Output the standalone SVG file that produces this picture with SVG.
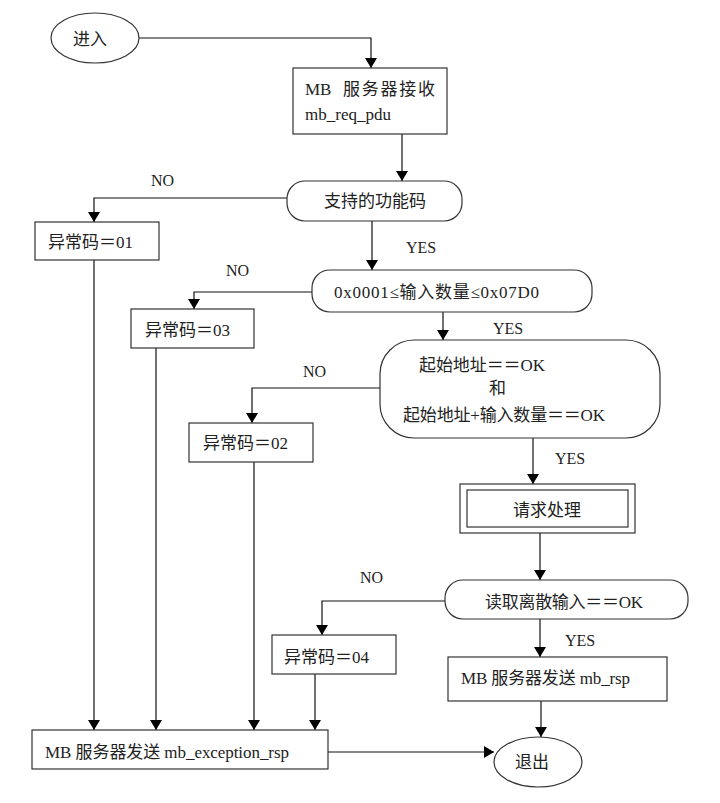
<svg xmlns="http://www.w3.org/2000/svg" width="720" height="803" viewBox="0 0 720 803">
<defs>
<marker id="ah" markerWidth="10" markerHeight="12" refX="10" refY="6" orient="auto" markerUnits="userSpaceOnUse">
<path d="M0,0 L10,6 L0,12 Z" fill="#000"/>
</marker>
<style>
.s{fill:#fff;stroke:#333;stroke-width:1.2}
.t{font-family:"Liberation Serif","Noto Sans CJK SC",serif;font-size:17px;fill:#222}
.n{font-family:"Liberation Serif","Noto Sans CJK SC",serif;font-size:16px;fill:#222}
.c{fill:none;stroke:#111;stroke-width:1.2;marker-end:url(#ah)}
</style>
</defs>
<rect width="720" height="803" fill="#fff"/>
<g id="connectors">
<path class="c" d="M139,38 H371 V68"/>
<path class="c" d="M402,134 V181"/>
<path class="c" d="M287,198 H94 V222"/>
<path class="c" d="M372,221 V270"/>
<path class="c" d="M312,292 H194 V309"/>
<path class="c" d="M443,312 V340"/>
<path class="c" d="M380,388 H252 V423"/>
<path class="c" d="M533,438 V484"/>
<path class="c" d="M540,533 V580"/>
<path class="c" d="M445,601 H322 V635"/>
<path class="c" d="M540,619 V657"/>
<path class="c" d="M94,260 V730"/>
<path class="c" d="M156,348 V730"/>
<path class="c" d="M254,462 V730"/>
<path class="c" d="M315,674 V730"/>
<path class="c" d="M328,752 H494"/>
<path class="c" d="M541,701 V737"/>
</g>
<g id="labels">
<text class="n" x="151" y="186">NO</text>
<text class="n" x="406" y="253">YES</text>
<text class="n" x="226" y="276">NO</text>
<text class="n" x="493" y="334">YES</text>
<text class="n" x="303" y="377">NO</text>
<text class="n" x="555" y="464">YES</text>
<text class="n" x="360" y="583">NO</text>
<text class="n" x="565" y="646">YES</text>
</g>
<g id="start">
<ellipse class="s" cx="95" cy="38" rx="44" ry="25"/>
<text class="t" x="90" y="45" text-anchor="middle">进入</text>
</g>
<g id="recv">
<rect class="s" x="293" y="68" width="154" height="66"/>
<text class="t" x="305" y="95">MB</text>
<text class="t" x="343" y="95" textLength="92" lengthAdjust="spacing">服务器接收</text>
<text class="t" x="305" y="120">mb_req_pdu</text>
</g>
<g id="dec1">
<rect class="s" x="287" y="181" width="175" height="40" rx="18"/>
<text class="t" x="375" y="207" text-anchor="middle">支持的功能码</text>
</g>
<g id="err01">
<rect class="s" x="35" y="222" width="124" height="38"/>
<text class="t" x="48" y="248">异常码＝01</text>
</g>
<g id="dec2">
<rect class="s" x="312" y="270" width="280" height="42" rx="18"/>
<text class="t" x="334" y="298" textLength="205" lengthAdjust="spacing">0x0001≤输入数量≤0x07D0</text>
</g>
<g id="err03">
<rect class="s" x="131" y="309" width="123" height="39"/>
<text class="t" x="145" y="336">异常码＝03</text>
</g>
<g id="dec3">
<rect class="s" x="380" y="340" width="280" height="98" rx="34"/>
<text class="t" x="419" y="371" textLength="126" lengthAdjust="spacing">起始地址＝＝OK</text>
<text class="t" x="489" y="394">和</text>
<text class="t" x="403" y="421" textLength="202" lengthAdjust="spacing">起始地址+输入数量＝＝OK</text>
</g>
<g id="err02">
<rect class="s" x="189" y="423" width="124" height="39"/>
<text class="t" x="203" y="449">异常码＝02</text>
</g>
<g id="proc">
<rect class="s" x="460" y="484" width="175" height="49"/>
<rect class="s" x="467" y="490" width="161" height="37"/>
<text class="t" x="547" y="516" text-anchor="middle">请求处理</text>
</g>
<g id="dec4">
<rect class="s" x="445" y="580" width="243" height="39" rx="18"/>
<text class="t" x="485" y="608" textLength="158" lengthAdjust="spacing">读取离散输入＝＝OK</text>
</g>
<g id="err04">
<rect class="s" x="272" y="635" width="124" height="39"/>
<text class="t" x="284" y="663">异常码＝04</text>
</g>
<g id="rsp">
<rect class="s" x="448" y="657" width="219" height="44"/>
<text class="t" x="461" y="684" textLength="169" lengthAdjust="spacing">MB 服务器发送 mb_rsp</text>
</g>
<g id="exc">
<rect class="s" x="32" y="730" width="296" height="39"/>
<text class="t" x="45" y="758" textLength="244" lengthAdjust="spacing">MB 服务器发送 mb_exception_rsp</text>
</g>
<g id="exit">
<ellipse class="s" cx="538" cy="762" rx="44" ry="25"/>
<text class="t" x="532" y="768" text-anchor="middle">退出</text>
</g>
</svg>
